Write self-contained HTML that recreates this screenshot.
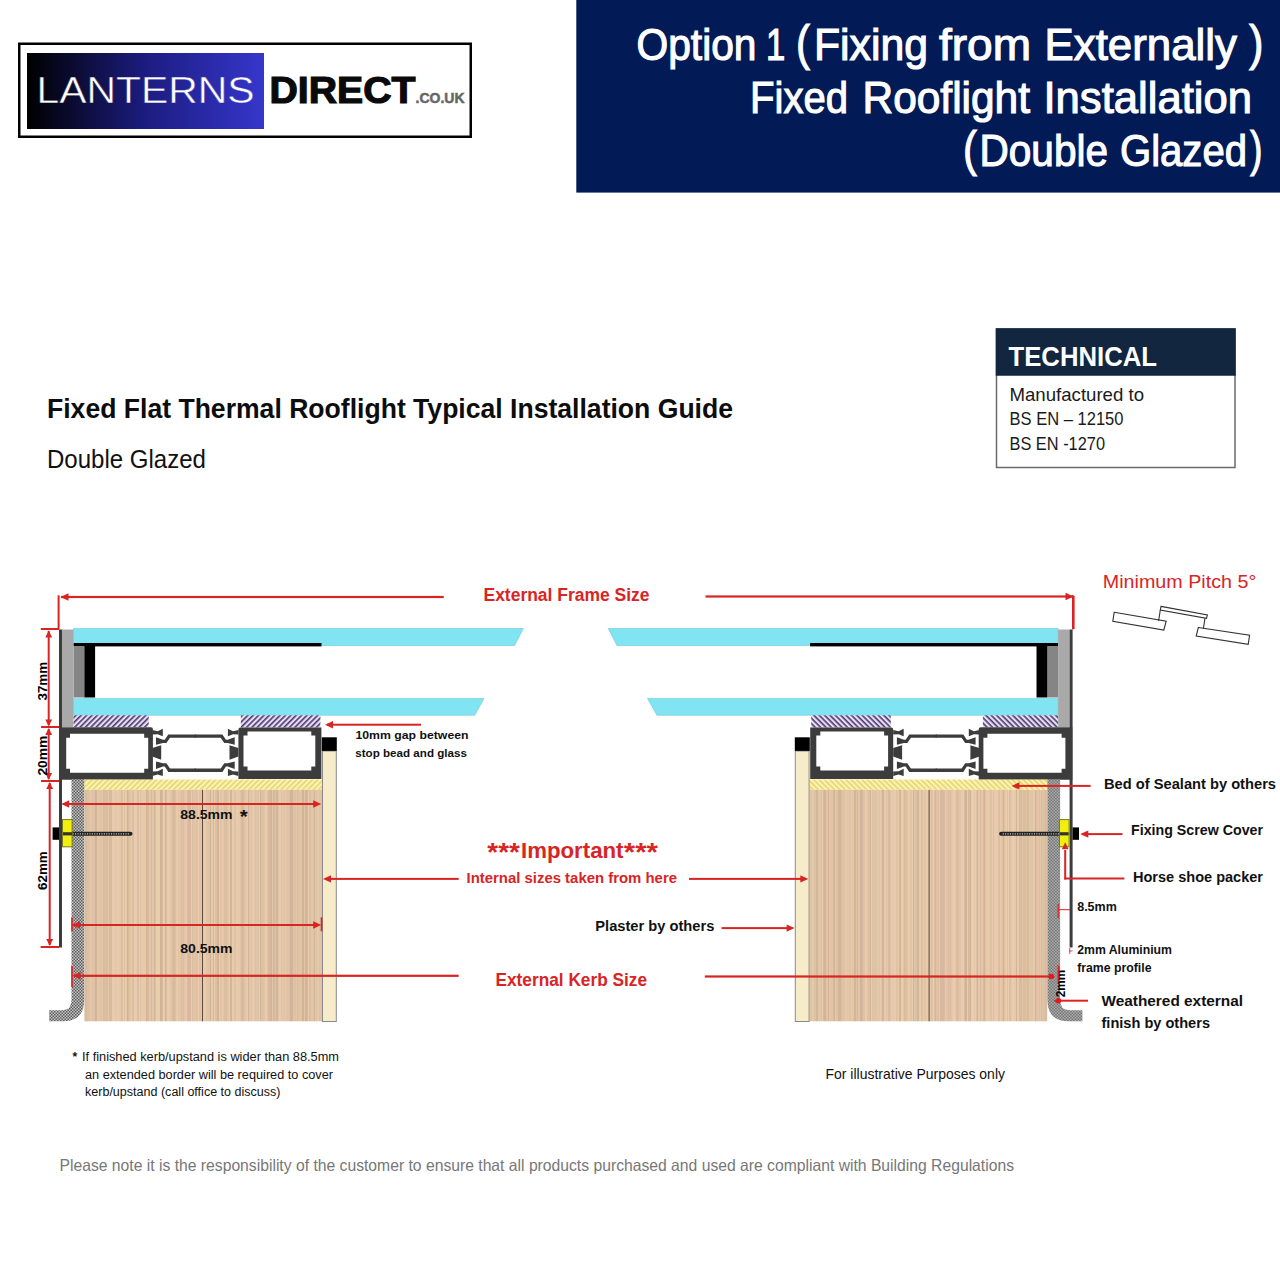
<!DOCTYPE html><html><head><meta charset="utf-8"><style>html,body{margin:0;padding:0;background:#fff;width:1280px;height:1280px;overflow:hidden}svg{display:block;font-family:"Liberation Sans",sans-serif}</style></head><body>
<svg width="1280" height="1280" viewBox="0 0 1280 1280">
<defs>
<linearGradient id="logoG" gradientUnits="userSpaceOnUse" x1="27" x2="264" y1="0" y2="0"><stop offset="0" stop-color="#000000"/><stop offset="0.5" stop-color="#1c1c80"/><stop offset="1" stop-color="#3636cc"/></linearGradient>
<pattern id="purp" width="3.8" height="3.8" patternUnits="userSpaceOnUse" patternTransform="rotate(45)"><rect width="3.8" height="3.8" fill="#eadcf2"/><rect width="1.6" height="3.8" fill="#4a3a6e"/></pattern>
<pattern id="yel" width="3.8" height="3.8" patternUnits="userSpaceOnUse" patternTransform="rotate(45)"><rect width="3.8" height="3.8" fill="#f8f1c0"/><rect width="1.7" height="3.8" fill="#e9d862"/></pattern>
<pattern id="chk" width="3" height="3" patternUnits="userSpaceOnUse"><rect width="3" height="3" fill="#c4c4c4"/><rect width="1.5" height="1.5" fill="#5c5c5c"/><rect x="1.5" y="1.5" width="1.5" height="1.5" fill="#5c5c5c"/></pattern>
<linearGradient id="wood" x1="0" x2="1" y1="0" y2="0"><stop offset="0.0000" stop-color="rgb(221, 189, 159)"/><stop offset="0.0039" stop-color="rgb(221, 189, 159)"/><stop offset="0.0039" stop-color="rgb(216, 189, 155)"/><stop offset="0.0109" stop-color="rgb(216, 189, 155)"/><stop offset="0.0109" stop-color="rgb(221, 192, 165)"/><stop offset="0.0183" stop-color="rgb(221, 192, 165)"/><stop offset="0.0183" stop-color="rgb(221, 196, 165)"/><stop offset="0.0228" stop-color="rgb(221, 196, 165)"/><stop offset="0.0228" stop-color="rgb(215, 189, 155)"/><stop offset="0.0252" stop-color="rgb(215, 189, 155)"/><stop offset="0.0252" stop-color="rgb(227, 199, 168)"/><stop offset="0.0307" stop-color="rgb(227, 199, 168)"/><stop offset="0.0307" stop-color="rgb(220, 192, 160)"/><stop offset="0.0360" stop-color="rgb(220, 192, 160)"/><stop offset="0.0360" stop-color="rgb(228, 196, 165)"/><stop offset="0.0412" stop-color="rgb(228, 196, 165)"/><stop offset="0.0412" stop-color="rgb(223, 192, 166)"/><stop offset="0.0467" stop-color="rgb(223, 192, 166)"/><stop offset="0.0467" stop-color="rgb(212, 180, 152)"/><stop offset="0.0530" stop-color="rgb(212, 180, 152)"/><stop offset="0.0530" stop-color="rgb(229, 201, 172)"/><stop offset="0.0591" stop-color="rgb(229, 201, 172)"/><stop offset="0.0591" stop-color="rgb(226, 196, 166)"/><stop offset="0.0666" stop-color="rgb(226, 196, 166)"/><stop offset="0.0666" stop-color="rgb(221, 196, 164)"/><stop offset="0.0728" stop-color="rgb(221, 196, 164)"/><stop offset="0.0728" stop-color="rgb(227, 197, 169)"/><stop offset="0.0780" stop-color="rgb(227, 197, 169)"/><stop offset="0.0780" stop-color="rgb(218, 188, 156)"/><stop offset="0.0859" stop-color="rgb(218, 188, 156)"/><stop offset="0.0859" stop-color="rgb(221, 192, 159)"/><stop offset="0.0924" stop-color="rgb(221, 192, 159)"/><stop offset="0.0924" stop-color="rgb(218, 189, 157)"/><stop offset="0.1002" stop-color="rgb(218, 189, 157)"/><stop offset="0.1002" stop-color="rgb(228, 198, 169)"/><stop offset="0.1042" stop-color="rgb(228, 198, 169)"/><stop offset="0.1042" stop-color="rgb(214, 187, 158)"/><stop offset="0.1110" stop-color="rgb(214, 187, 158)"/><stop offset="0.1110" stop-color="rgb(214, 187, 159)"/><stop offset="0.1172" stop-color="rgb(214, 187, 159)"/><stop offset="0.1172" stop-color="rgb(231, 203, 172)"/><stop offset="0.1251" stop-color="rgb(231, 203, 172)"/><stop offset="0.1251" stop-color="rgb(231, 201, 174)"/><stop offset="0.1273" stop-color="rgb(231, 201, 174)"/><stop offset="0.1273" stop-color="rgb(209, 181, 150)"/><stop offset="0.1300" stop-color="rgb(209, 181, 150)"/><stop offset="0.1300" stop-color="rgb(230, 201, 168)"/><stop offset="0.1364" stop-color="rgb(230, 201, 168)"/><stop offset="0.1364" stop-color="rgb(231, 200, 169)"/><stop offset="0.1394" stop-color="rgb(231, 200, 169)"/><stop offset="0.1394" stop-color="rgb(233, 205, 174)"/><stop offset="0.1463" stop-color="rgb(233, 205, 174)"/><stop offset="0.1463" stop-color="rgb(228, 199, 168)"/><stop offset="0.1524" stop-color="rgb(228, 199, 168)"/><stop offset="0.1524" stop-color="rgb(222, 192, 165)"/><stop offset="0.1555" stop-color="rgb(222, 192, 165)"/><stop offset="0.1555" stop-color="rgb(220, 191, 159)"/><stop offset="0.1625" stop-color="rgb(220, 191, 159)"/><stop offset="0.1625" stop-color="rgb(233, 206, 176)"/><stop offset="0.1653" stop-color="rgb(233, 206, 176)"/><stop offset="0.1653" stop-color="rgb(222, 193, 159)"/><stop offset="0.1692" stop-color="rgb(222, 193, 159)"/><stop offset="0.1692" stop-color="rgb(234, 205, 175)"/><stop offset="0.1740" stop-color="rgb(234, 205, 175)"/><stop offset="0.1740" stop-color="rgb(232, 200, 171)"/><stop offset="0.1783" stop-color="rgb(232, 200, 171)"/><stop offset="0.1783" stop-color="rgb(224, 193, 162)"/><stop offset="0.1807" stop-color="rgb(224, 193, 162)"/><stop offset="0.1807" stop-color="rgb(208, 179, 153)"/><stop offset="0.1848" stop-color="rgb(208, 179, 153)"/><stop offset="0.1848" stop-color="rgb(216, 189, 155)"/><stop offset="0.1877" stop-color="rgb(216, 189, 155)"/><stop offset="0.1877" stop-color="rgb(225, 195, 163)"/><stop offset="0.1901" stop-color="rgb(225, 195, 163)"/><stop offset="0.1901" stop-color="rgb(228, 197, 168)"/><stop offset="0.1959" stop-color="rgb(228, 197, 168)"/><stop offset="0.1959" stop-color="rgb(232, 203, 173)"/><stop offset="0.1987" stop-color="rgb(232, 203, 173)"/><stop offset="0.1987" stop-color="rgb(218, 191, 161)"/><stop offset="0.2025" stop-color="rgb(218, 191, 161)"/><stop offset="0.2025" stop-color="rgb(222, 189, 160)"/><stop offset="0.2074" stop-color="rgb(222, 189, 160)"/><stop offset="0.2074" stop-color="rgb(233, 203, 176)"/><stop offset="0.2151" stop-color="rgb(233, 203, 176)"/><stop offset="0.2151" stop-color="rgb(233, 202, 174)"/><stop offset="0.2226" stop-color="rgb(233, 202, 174)"/><stop offset="0.2226" stop-color="rgb(220, 190, 163)"/><stop offset="0.2277" stop-color="rgb(220, 190, 163)"/><stop offset="0.2277" stop-color="rgb(233, 203, 176)"/><stop offset="0.2330" stop-color="rgb(233, 203, 176)"/><stop offset="0.2330" stop-color="rgb(222, 195, 163)"/><stop offset="0.2398" stop-color="rgb(222, 195, 163)"/><stop offset="0.2398" stop-color="rgb(231, 200, 170)"/><stop offset="0.2430" stop-color="rgb(231, 200, 170)"/><stop offset="0.2430" stop-color="rgb(231, 201, 174)"/><stop offset="0.2498" stop-color="rgb(231, 201, 174)"/><stop offset="0.2498" stop-color="rgb(231, 202, 170)"/><stop offset="0.2575" stop-color="rgb(231, 202, 170)"/><stop offset="0.2575" stop-color="rgb(224, 193, 164)"/><stop offset="0.2608" stop-color="rgb(224, 193, 164)"/><stop offset="0.2608" stop-color="rgb(211, 181, 149)"/><stop offset="0.2640" stop-color="rgb(211, 181, 149)"/><stop offset="0.2640" stop-color="rgb(217, 186, 158)"/><stop offset="0.2711" stop-color="rgb(217, 186, 158)"/><stop offset="0.2711" stop-color="rgb(229, 198, 171)"/><stop offset="0.2784" stop-color="rgb(229, 198, 171)"/><stop offset="0.2784" stop-color="rgb(215, 186, 156)"/><stop offset="0.2832" stop-color="rgb(215, 186, 156)"/><stop offset="0.2832" stop-color="rgb(230, 204, 174)"/><stop offset="0.2853" stop-color="rgb(230, 204, 174)"/><stop offset="0.2853" stop-color="rgb(225, 199, 169)"/><stop offset="0.2932" stop-color="rgb(225, 199, 169)"/><stop offset="0.2932" stop-color="rgb(208, 183, 150)"/><stop offset="0.2960" stop-color="rgb(208, 183, 150)"/><stop offset="0.2960" stop-color="rgb(222, 192, 164)"/><stop offset="0.3006" stop-color="rgb(222, 192, 164)"/><stop offset="0.3006" stop-color="rgb(232, 206, 174)"/><stop offset="0.3039" stop-color="rgb(232, 206, 174)"/><stop offset="0.3039" stop-color="rgb(228, 198, 170)"/><stop offset="0.3074" stop-color="rgb(228, 198, 170)"/><stop offset="0.3074" stop-color="rgb(234, 206, 173)"/><stop offset="0.3148" stop-color="rgb(234, 206, 173)"/><stop offset="0.3148" stop-color="rgb(235, 202, 175)"/><stop offset="0.3200" stop-color="rgb(235, 202, 175)"/><stop offset="0.3200" stop-color="rgb(209, 180, 150)"/><stop offset="0.3267" stop-color="rgb(209, 180, 150)"/><stop offset="0.3267" stop-color="rgb(218, 185, 157)"/><stop offset="0.3315" stop-color="rgb(218, 185, 157)"/><stop offset="0.3315" stop-color="rgb(235, 205, 172)"/><stop offset="0.3376" stop-color="rgb(235, 205, 172)"/><stop offset="0.3376" stop-color="rgb(209, 180, 151)"/><stop offset="0.3449" stop-color="rgb(209, 180, 151)"/><stop offset="0.3449" stop-color="rgb(218, 188, 159)"/><stop offset="0.3472" stop-color="rgb(218, 188, 159)"/><stop offset="0.3472" stop-color="rgb(217, 187, 159)"/><stop offset="0.3493" stop-color="rgb(217, 187, 159)"/><stop offset="0.3493" stop-color="rgb(232, 204, 175)"/><stop offset="0.3572" stop-color="rgb(232, 204, 175)"/><stop offset="0.3572" stop-color="rgb(233, 201, 174)"/><stop offset="0.3622" stop-color="rgb(233, 201, 174)"/><stop offset="0.3622" stop-color="rgb(228, 196, 168)"/><stop offset="0.3695" stop-color="rgb(228, 196, 168)"/><stop offset="0.3695" stop-color="rgb(217, 188, 157)"/><stop offset="0.3723" stop-color="rgb(217, 188, 157)"/><stop offset="0.3723" stop-color="rgb(224, 192, 163)"/><stop offset="0.3747" stop-color="rgb(224, 192, 163)"/><stop offset="0.3747" stop-color="rgb(215, 187, 156)"/><stop offset="0.3808" stop-color="rgb(215, 187, 156)"/><stop offset="0.3808" stop-color="rgb(221, 190, 159)"/><stop offset="0.3843" stop-color="rgb(221, 190, 159)"/><stop offset="0.3843" stop-color="rgb(230, 201, 171)"/><stop offset="0.3887" stop-color="rgb(230, 201, 171)"/><stop offset="0.3887" stop-color="rgb(234, 204, 175)"/><stop offset="0.3949" stop-color="rgb(234, 204, 175)"/><stop offset="0.3949" stop-color="rgb(224, 197, 165)"/><stop offset="0.3981" stop-color="rgb(224, 197, 165)"/><stop offset="0.3981" stop-color="rgb(232, 200, 173)"/><stop offset="0.4021" stop-color="rgb(232, 200, 173)"/><stop offset="0.4021" stop-color="rgb(228, 195, 165)"/><stop offset="0.4061" stop-color="rgb(228, 195, 165)"/><stop offset="0.4061" stop-color="rgb(221, 192, 164)"/><stop offset="0.4140" stop-color="rgb(221, 192, 164)"/><stop offset="0.4140" stop-color="rgb(220, 190, 162)"/><stop offset="0.4176" stop-color="rgb(220, 190, 162)"/><stop offset="0.4176" stop-color="rgb(227, 196, 169)"/><stop offset="0.4247" stop-color="rgb(227, 196, 169)"/><stop offset="0.4247" stop-color="rgb(231, 200, 172)"/><stop offset="0.4322" stop-color="rgb(231, 200, 172)"/><stop offset="0.4322" stop-color="rgb(221, 189, 161)"/><stop offset="0.4346" stop-color="rgb(221, 189, 161)"/><stop offset="0.4346" stop-color="rgb(216, 185, 159)"/><stop offset="0.4422" stop-color="rgb(216, 185, 159)"/><stop offset="0.4422" stop-color="rgb(216, 185, 158)"/><stop offset="0.4494" stop-color="rgb(216, 185, 158)"/><stop offset="0.4494" stop-color="rgb(234, 204, 176)"/><stop offset="0.4514" stop-color="rgb(234, 204, 176)"/><stop offset="0.4514" stop-color="rgb(232, 202, 173)"/><stop offset="0.4542" stop-color="rgb(232, 202, 173)"/><stop offset="0.4542" stop-color="rgb(219, 191, 161)"/><stop offset="0.4578" stop-color="rgb(219, 191, 161)"/><stop offset="0.4578" stop-color="rgb(223, 195, 166)"/><stop offset="0.4630" stop-color="rgb(223, 195, 166)"/><stop offset="0.4630" stop-color="rgb(226, 195, 167)"/><stop offset="0.4690" stop-color="rgb(226, 195, 167)"/><stop offset="0.4690" stop-color="rgb(212, 183, 150)"/><stop offset="0.4712" stop-color="rgb(212, 183, 150)"/><stop offset="0.4712" stop-color="rgb(224, 192, 165)"/><stop offset="0.4763" stop-color="rgb(224, 192, 165)"/><stop offset="0.4763" stop-color="rgb(234, 206, 174)"/><stop offset="0.4822" stop-color="rgb(234, 206, 174)"/><stop offset="0.4822" stop-color="rgb(223, 193, 163)"/><stop offset="0.4884" stop-color="rgb(223, 193, 163)"/><stop offset="0.4884" stop-color="rgb(224, 196, 165)"/><stop offset="0.4928" stop-color="rgb(224, 196, 165)"/><stop offset="0.4928" stop-color="rgb(227, 196, 165)"/><stop offset="0.4952" stop-color="rgb(227, 196, 165)"/><stop offset="0.4952" stop-color="rgb(231, 200, 172)"/><stop offset="0.4977" stop-color="rgb(231, 200, 172)"/><stop offset="0.4977" stop-color="rgb(224, 198, 166)"/><stop offset="0.5012" stop-color="rgb(224, 198, 166)"/><stop offset="0.5012" stop-color="rgb(229, 202, 172)"/><stop offset="0.5041" stop-color="rgb(229, 202, 172)"/><stop offset="0.5041" stop-color="rgb(233, 203, 172)"/><stop offset="0.5119" stop-color="rgb(233, 203, 172)"/><stop offset="0.5119" stop-color="rgb(225, 197, 166)"/><stop offset="0.5197" stop-color="rgb(225, 197, 166)"/><stop offset="0.5197" stop-color="rgb(227, 201, 170)"/><stop offset="0.5217" stop-color="rgb(227, 201, 170)"/><stop offset="0.5217" stop-color="rgb(222, 196, 162)"/><stop offset="0.5267" stop-color="rgb(222, 196, 162)"/><stop offset="0.5267" stop-color="rgb(215, 188, 159)"/><stop offset="0.5293" stop-color="rgb(215, 188, 159)"/><stop offset="0.5293" stop-color="rgb(210, 181, 150)"/><stop offset="0.5315" stop-color="rgb(210, 181, 150)"/><stop offset="0.5315" stop-color="rgb(232, 206, 175)"/><stop offset="0.5340" stop-color="rgb(232, 206, 175)"/><stop offset="0.5340" stop-color="rgb(230, 202, 174)"/><stop offset="0.5406" stop-color="rgb(230, 202, 174)"/><stop offset="0.5406" stop-color="rgb(212, 182, 153)"/><stop offset="0.5465" stop-color="rgb(212, 182, 153)"/><stop offset="0.5465" stop-color="rgb(235, 206, 172)"/><stop offset="0.5493" stop-color="rgb(235, 206, 172)"/><stop offset="0.5493" stop-color="rgb(221, 192, 162)"/><stop offset="0.5563" stop-color="rgb(221, 192, 162)"/><stop offset="0.5563" stop-color="rgb(224, 198, 168)"/><stop offset="0.5591" stop-color="rgb(224, 198, 168)"/><stop offset="0.5591" stop-color="rgb(212, 180, 152)"/><stop offset="0.5644" stop-color="rgb(212, 180, 152)"/><stop offset="0.5644" stop-color="rgb(229, 204, 174)"/><stop offset="0.5680" stop-color="rgb(229, 204, 174)"/><stop offset="0.5680" stop-color="rgb(231, 205, 174)"/><stop offset="0.5705" stop-color="rgb(231, 205, 174)"/><stop offset="0.5705" stop-color="rgb(225, 196, 166)"/><stop offset="0.5774" stop-color="rgb(225, 196, 166)"/><stop offset="0.5774" stop-color="rgb(232, 203, 170)"/><stop offset="0.5838" stop-color="rgb(232, 203, 170)"/><stop offset="0.5838" stop-color="rgb(224, 199, 166)"/><stop offset="0.5887" stop-color="rgb(224, 199, 166)"/><stop offset="0.5887" stop-color="rgb(220, 191, 161)"/><stop offset="0.5912" stop-color="rgb(220, 191, 161)"/><stop offset="0.5912" stop-color="rgb(218, 192, 159)"/><stop offset="0.5969" stop-color="rgb(218, 192, 159)"/><stop offset="0.5969" stop-color="rgb(215, 188, 157)"/><stop offset="0.6018" stop-color="rgb(215, 188, 157)"/><stop offset="0.6018" stop-color="rgb(227, 198, 168)"/><stop offset="0.6081" stop-color="rgb(227, 198, 168)"/><stop offset="0.6081" stop-color="rgb(232, 204, 172)"/><stop offset="0.6147" stop-color="rgb(232, 204, 172)"/><stop offset="0.6147" stop-color="rgb(210, 182, 149)"/><stop offset="0.6223" stop-color="rgb(210, 182, 149)"/><stop offset="0.6223" stop-color="rgb(231, 203, 171)"/><stop offset="0.6292" stop-color="rgb(231, 203, 171)"/><stop offset="0.6292" stop-color="rgb(221, 196, 162)"/><stop offset="0.6367" stop-color="rgb(221, 196, 162)"/><stop offset="0.6367" stop-color="rgb(233, 204, 173)"/><stop offset="0.6396" stop-color="rgb(233, 204, 173)"/><stop offset="0.6396" stop-color="rgb(233, 202, 174)"/><stop offset="0.6452" stop-color="rgb(233, 202, 174)"/><stop offset="0.6452" stop-color="rgb(232, 200, 171)"/><stop offset="0.6486" stop-color="rgb(232, 200, 171)"/><stop offset="0.6486" stop-color="rgb(232, 203, 172)"/><stop offset="0.6506" stop-color="rgb(232, 203, 172)"/><stop offset="0.6506" stop-color="rgb(229, 201, 170)"/><stop offset="0.6569" stop-color="rgb(229, 201, 170)"/><stop offset="0.6569" stop-color="rgb(224, 197, 167)"/><stop offset="0.6597" stop-color="rgb(224, 197, 167)"/><stop offset="0.6597" stop-color="rgb(215, 185, 157)"/><stop offset="0.6667" stop-color="rgb(215, 185, 157)"/><stop offset="0.6667" stop-color="rgb(217, 188, 159)"/><stop offset="0.6702" stop-color="rgb(217, 188, 159)"/><stop offset="0.6702" stop-color="rgb(229, 198, 170)"/><stop offset="0.6727" stop-color="rgb(229, 198, 170)"/><stop offset="0.6727" stop-color="rgb(225, 196, 167)"/><stop offset="0.6753" stop-color="rgb(225, 196, 167)"/><stop offset="0.6753" stop-color="rgb(225, 197, 168)"/><stop offset="0.6799" stop-color="rgb(225, 197, 168)"/><stop offset="0.6799" stop-color="rgb(231, 202, 169)"/><stop offset="0.6872" stop-color="rgb(231, 202, 169)"/><stop offset="0.6872" stop-color="rgb(211, 182, 153)"/><stop offset="0.6935" stop-color="rgb(211, 182, 153)"/><stop offset="0.6935" stop-color="rgb(227, 195, 169)"/><stop offset="0.7001" stop-color="rgb(227, 195, 169)"/><stop offset="0.7001" stop-color="rgb(232, 202, 172)"/><stop offset="0.7028" stop-color="rgb(232, 202, 172)"/><stop offset="0.7028" stop-color="rgb(227, 196, 167)"/><stop offset="0.7066" stop-color="rgb(227, 196, 167)"/><stop offset="0.7066" stop-color="rgb(227, 199, 169)"/><stop offset="0.7115" stop-color="rgb(227, 199, 169)"/><stop offset="0.7115" stop-color="rgb(234, 206, 173)"/><stop offset="0.7140" stop-color="rgb(234, 206, 173)"/><stop offset="0.7140" stop-color="rgb(227, 198, 166)"/><stop offset="0.7187" stop-color="rgb(227, 198, 166)"/><stop offset="0.7187" stop-color="rgb(221, 193, 164)"/><stop offset="0.7240" stop-color="rgb(221, 193, 164)"/><stop offset="0.7240" stop-color="rgb(225, 197, 167)"/><stop offset="0.7293" stop-color="rgb(225, 197, 167)"/><stop offset="0.7293" stop-color="rgb(221, 195, 165)"/><stop offset="0.7361" stop-color="rgb(221, 195, 165)"/><stop offset="0.7361" stop-color="rgb(232, 205, 174)"/><stop offset="0.7406" stop-color="rgb(232, 205, 174)"/><stop offset="0.7406" stop-color="rgb(211, 181, 153)"/><stop offset="0.7447" stop-color="rgb(211, 181, 153)"/><stop offset="0.7447" stop-color="rgb(222, 193, 160)"/><stop offset="0.7525" stop-color="rgb(222, 193, 160)"/><stop offset="0.7525" stop-color="rgb(224, 195, 165)"/><stop offset="0.7550" stop-color="rgb(224, 195, 165)"/><stop offset="0.7550" stop-color="rgb(224, 196, 165)"/><stop offset="0.7596" stop-color="rgb(224, 196, 165)"/><stop offset="0.7596" stop-color="rgb(233, 203, 170)"/><stop offset="0.7642" stop-color="rgb(233, 203, 170)"/><stop offset="0.7642" stop-color="rgb(234, 205, 173)"/><stop offset="0.7666" stop-color="rgb(234, 205, 173)"/><stop offset="0.7666" stop-color="rgb(222, 193, 166)"/><stop offset="0.7733" stop-color="rgb(222, 193, 166)"/><stop offset="0.7733" stop-color="rgb(217, 185, 159)"/><stop offset="0.7811" stop-color="rgb(217, 185, 159)"/><stop offset="0.7811" stop-color="rgb(209, 180, 153)"/><stop offset="0.7878" stop-color="rgb(209, 180, 153)"/><stop offset="0.7878" stop-color="rgb(225, 197, 169)"/><stop offset="0.7953" stop-color="rgb(225, 197, 169)"/><stop offset="0.7953" stop-color="rgb(214, 185, 157)"/><stop offset="0.8011" stop-color="rgb(214, 185, 157)"/><stop offset="0.8011" stop-color="rgb(224, 194, 163)"/><stop offset="0.8063" stop-color="rgb(224, 194, 163)"/><stop offset="0.8063" stop-color="rgb(208, 183, 151)"/><stop offset="0.8130" stop-color="rgb(208, 183, 151)"/><stop offset="0.8130" stop-color="rgb(226, 196, 168)"/><stop offset="0.8210" stop-color="rgb(226, 196, 168)"/><stop offset="0.8210" stop-color="rgb(232, 202, 175)"/><stop offset="0.8262" stop-color="rgb(232, 202, 175)"/><stop offset="0.8262" stop-color="rgb(224, 195, 166)"/><stop offset="0.8324" stop-color="rgb(224, 195, 166)"/><stop offset="0.8324" stop-color="rgb(227, 200, 169)"/><stop offset="0.8374" stop-color="rgb(227, 200, 169)"/><stop offset="0.8374" stop-color="rgb(225, 198, 165)"/><stop offset="0.8434" stop-color="rgb(225, 198, 165)"/><stop offset="0.8434" stop-color="rgb(229, 201, 169)"/><stop offset="0.8496" stop-color="rgb(229, 201, 169)"/><stop offset="0.8496" stop-color="rgb(228, 195, 166)"/><stop offset="0.8516" stop-color="rgb(228, 195, 166)"/><stop offset="0.8516" stop-color="rgb(223, 193, 163)"/><stop offset="0.8566" stop-color="rgb(223, 193, 163)"/><stop offset="0.8566" stop-color="rgb(226, 195, 169)"/><stop offset="0.8614" stop-color="rgb(226, 195, 169)"/><stop offset="0.8614" stop-color="rgb(219, 192, 162)"/><stop offset="0.8663" stop-color="rgb(219, 192, 162)"/><stop offset="0.8663" stop-color="rgb(212, 180, 152)"/><stop offset="0.8738" stop-color="rgb(212, 180, 152)"/><stop offset="0.8738" stop-color="rgb(212, 180, 152)"/><stop offset="0.8761" stop-color="rgb(212, 180, 152)"/><stop offset="0.8761" stop-color="rgb(209, 182, 152)"/><stop offset="0.8784" stop-color="rgb(209, 182, 152)"/><stop offset="0.8784" stop-color="rgb(224, 195, 166)"/><stop offset="0.8858" stop-color="rgb(224, 195, 166)"/><stop offset="0.8858" stop-color="rgb(222, 192, 159)"/><stop offset="0.8898" stop-color="rgb(222, 192, 159)"/><stop offset="0.8898" stop-color="rgb(229, 200, 171)"/><stop offset="0.8937" stop-color="rgb(229, 200, 171)"/><stop offset="0.8937" stop-color="rgb(208, 181, 149)"/><stop offset="0.8967" stop-color="rgb(208, 181, 149)"/><stop offset="0.8967" stop-color="rgb(218, 186, 158)"/><stop offset="0.9008" stop-color="rgb(218, 186, 158)"/><stop offset="0.9008" stop-color="rgb(227, 195, 165)"/><stop offset="0.9049" stop-color="rgb(227, 195, 165)"/><stop offset="0.9049" stop-color="rgb(223, 196, 165)"/><stop offset="0.9112" stop-color="rgb(223, 196, 165)"/><stop offset="0.9112" stop-color="rgb(227, 195, 168)"/><stop offset="0.9143" stop-color="rgb(227, 195, 168)"/><stop offset="0.9143" stop-color="rgb(227, 201, 168)"/><stop offset="0.9178" stop-color="rgb(227, 201, 168)"/><stop offset="0.9178" stop-color="rgb(210, 180, 149)"/><stop offset="0.9226" stop-color="rgb(210, 180, 149)"/><stop offset="0.9226" stop-color="rgb(226, 197, 167)"/><stop offset="0.9300" stop-color="rgb(226, 197, 167)"/><stop offset="0.9300" stop-color="rgb(210, 181, 151)"/><stop offset="0.9377" stop-color="rgb(210, 181, 151)"/><stop offset="0.9377" stop-color="rgb(214, 186, 155)"/><stop offset="0.9415" stop-color="rgb(214, 186, 155)"/><stop offset="0.9415" stop-color="rgb(232, 202, 173)"/><stop offset="0.9464" stop-color="rgb(232, 202, 173)"/><stop offset="0.9464" stop-color="rgb(221, 190, 159)"/><stop offset="0.9533" stop-color="rgb(221, 190, 159)"/><stop offset="0.9533" stop-color="rgb(225, 199, 166)"/><stop offset="0.9601" stop-color="rgb(225, 199, 166)"/><stop offset="0.9601" stop-color="rgb(227, 197, 169)"/><stop offset="0.9640" stop-color="rgb(227, 197, 169)"/><stop offset="0.9640" stop-color="rgb(224, 193, 163)"/><stop offset="0.9665" stop-color="rgb(224, 193, 163)"/><stop offset="0.9665" stop-color="rgb(211, 183, 153)"/><stop offset="0.9710" stop-color="rgb(211, 183, 153)"/><stop offset="0.9710" stop-color="rgb(227, 198, 170)"/><stop offset="0.9749" stop-color="rgb(227, 198, 170)"/><stop offset="0.9749" stop-color="rgb(221, 195, 165)"/><stop offset="0.9807" stop-color="rgb(221, 195, 165)"/><stop offset="0.9807" stop-color="rgb(230, 201, 171)"/><stop offset="0.9886" stop-color="rgb(230, 201, 171)"/><stop offset="0.9886" stop-color="rgb(225, 192, 164)"/><stop offset="0.9931" stop-color="rgb(225, 192, 164)"/><stop offset="0.9931" stop-color="rgb(226, 197, 167)"/><stop offset="0.9969" stop-color="rgb(226, 197, 167)"/><stop offset="0.9969" stop-color="rgb(222, 193, 163)"/><stop offset="1.0000" stop-color="rgb(222, 193, 163)"/></linearGradient>
<marker id="ah" viewBox="0 0 10 10" refX="10" refY="5" markerWidth="10" markerHeight="10" markerUnits="userSpaceOnUse" orient="auto-start-reverse"><path d="M0,0 L10,5 L0,10 z" fill="#d92424"/></marker>
<g id="half">
<rect x="57.6" y="595.3" width="2" height="34" fill="#d92424"/>
<polygon points="73.5,628.5 523.4,628.5 514.6,645.5 73.5,645.5" fill="#80e4f3" stroke="#70c8d6" stroke-width="0.6"/>
<polygon points="73.5,698.4 484.1,698.4 474.7,715.3 73.5,715.3" fill="#80e4f3" stroke="#70c8d6" stroke-width="0.6"/>
<rect x="73.5" y="643" width="248" height="3.4" fill="#000"/>
<rect x="73.5" y="646" width="11" height="51.5" fill="#858585"/>
<rect x="84.4" y="646" width="10.7" height="51.5" fill="#000"/>
<rect x="62" y="629.5" width="11.5" height="97.5" fill="#a9a9a9"/>
<rect x="59" y="629.5" width="3" height="318" fill="#3c3c3c"/>
<rect x="73.6" y="715.3" width="75.1" height="11.9" fill="url(#purp)"/>
<rect x="240.8" y="715.3" width="79.6" height="12.2" fill="url(#purp)"/>
<path fill-rule="evenodd" fill="#3c3c3c" d="M59.3,727.3 H150.9 Q152.9,727.3 152.9,729.3 V779.7 H59.3 Z M66.2,737.7 H70 V733.7 H144.2 V737.7 H148.2 V768.8 H144.2 V772.8 H70 V768.8 H66.2 Z"/>
<path fill-rule="evenodd" fill="#3c3c3c" d="M240.4,727.5 H321.4 V779 H238.4 V729.5 Q238.4,727.5 240.4,727.5 Z M243.5,735.5 H247.5 V731.5 H311.3 V735.5 H315.3 V766.5 H311.3 V770.5 H247.5 V766.5 H243.5 Z"/>
<g fill="#3c3c3c"><polygon points="152.3,730 157.7,731.2 162.8,728.8 162.8,736.2 157.7,734.2 152.3,734.5"/><polygon points="156,737.3 163,739.7 164.8,739.7 168.3,734.4 196,734.4 196,737.7 170,737.7 166.4,743 163,743 156,744.7"/><polygon points="152.3,748 161.2,745.2 161.2,759.7 152.3,756.5"/><polygon points="156,768.9 163,766.6 164.8,766.6 168.3,771.9 196,771.9 196,768.6 170,768.6 166.4,763.3 163,763.3 156,761.5"/><polygon points="152.3,776 157.7,774.6 162.8,776 162.8,768.7 157.7,771.3 152.3,771.5"/></g>
<g fill="#3c3c3c" transform="matrix(-1 0 0 1 390.7 0)"><polygon points="152.3,730 157.7,731.2 162.8,728.8 162.8,736.2 157.7,734.2 152.3,734.5"/><polygon points="156,737.3 163,739.7 164.8,739.7 168.3,734.4 196,734.4 196,737.7 170,737.7 166.4,743 163,743 156,744.7"/><polygon points="152.3,748 161.2,745.2 161.2,759.7 152.3,756.5"/><polygon points="156,768.9 163,766.6 164.8,766.6 168.3,771.9 196,771.9 196,768.6 170,768.6 166.4,763.3 163,763.3 156,761.5"/><polygon points="152.3,776 157.7,774.6 162.8,776 162.8,768.7 157.7,771.3 152.3,771.5"/></g>
<rect x="84" y="779.5" width="238" height="10.3" fill="url(#yel)"/>
<rect x="84.4" y="789.8" width="237.6" height="231.5" fill="url(#wood)"/>
<rect x="202" y="789.8" width="1" height="231.5" fill="#5a4a40"/>
<path fill="url(#chk)" d="M71.5,779.5 H84.2 V1000 Q84.2,1021.3 63,1021.3 H49.2 V1010.2 H62 Q71.5,1010.2 71.5,1000 Z"/>
<rect x="322.5" y="751" width="13.8" height="270.5" fill="#f7ecc9" stroke="#8a8a8a" stroke-width="1"/>
<rect x="321.8" y="737.3" width="15" height="13.6" fill="#000"/>
<rect x="62" y="831.8" width="70.5" height="4" rx="2" fill="#222"/>
<line x1="63" y1="833.8" x2="130" y2="833.8" stroke="#ccc" stroke-width="1.2" stroke-dasharray="1.1 1.3"/>
<rect x="62.5" y="819.6" width="9.6" height="27.2" fill="#f0ef10" stroke="#7a7a20" stroke-width="1"/>
<rect x="63" y="832.2" width="9" height="3.2" fill="#333"/>
<rect x="52.6" y="827.4" width="6.4" height="12.4" fill="#000"/>
</g>
</defs>
<use href="#half"/>
<use href="#half" transform="matrix(-1 0 0 1 1131.6 0)"/>
<rect x="19.25" y="43.75" width="451.5" height="93" fill="#fff" stroke="#000" stroke-width="2.5"/>
<rect x="27" y="53" width="237" height="76" fill="url(#logoG)"/>
<text x="36.5" y="102.5" font-size="37.5" fill="#fff" textLength="218" lengthAdjust="spacingAndGlyphs" stroke="url(#logoG)" stroke-width="0.5">LANTERNS</text>
<text x="269.5" y="102.6" font-size="37" font-weight="bold" fill="#0a0a0a" textLength="146" lengthAdjust="spacingAndGlyphs" stroke="#0a0a0a" stroke-width="1.2">DIRECT</text>
<text x="415.5" y="102.7" font-size="14.5" font-weight="bold" fill="#666" textLength="49" lengthAdjust="spacingAndGlyphs" stroke="#666" stroke-width="0.5">.CO.UK</text>
<rect x="576.3" y="0" width="703.7" height="192.6" fill="#021b57"/>
<text x="636.5" y="60.4" font-size="44" fill="#fff" textLength="120" lengthAdjust="spacingAndGlyphs" stroke="#fff" stroke-width="1.1">Option</text>
<text x="766" y="60.4" font-size="44" fill="#fff" textLength="19.3" lengthAdjust="spacingAndGlyphs" stroke="#fff" stroke-width="1.1">1</text>
<text x="796.1" y="60.4" font-size="50" fill="#fff" textLength="14.1" lengthAdjust="spacingAndGlyphs" stroke="#fff" stroke-width="1.1">(</text>
<text x="814" y="60.4" font-size="44" fill="#fff" textLength="114" lengthAdjust="spacingAndGlyphs" stroke="#fff" stroke-width="1.1">Fixing</text>
<text x="939" y="60.4" font-size="44" fill="#fff" textLength="92" lengthAdjust="spacingAndGlyphs" stroke="#fff" stroke-width="1.1">from</text>
<text x="1044.5" y="60.4" font-size="44" fill="#fff" textLength="192.5" lengthAdjust="spacingAndGlyphs" stroke="#fff" stroke-width="1.1">Externally</text>
<text x="1249.1" y="60.4" font-size="50" fill="#fff" textLength="14.5" lengthAdjust="spacingAndGlyphs" stroke="#fff" stroke-width="1.1">)</text>
<text x="750" y="112.9" font-size="44" fill="#fff" textLength="98" lengthAdjust="spacingAndGlyphs" stroke="#fff" stroke-width="1.1">Fixed</text>
<text x="862.5" y="112.9" font-size="44" fill="#fff" textLength="167.5" lengthAdjust="spacingAndGlyphs" stroke="#fff" stroke-width="1.1">Rooflight</text>
<text x="1043.5" y="112.9" font-size="44" fill="#fff" textLength="208.5" lengthAdjust="spacingAndGlyphs" stroke="#fff" stroke-width="1.1">Installation</text>
<text x="963" y="166.1" font-size="50" fill="#fff" textLength="14" lengthAdjust="spacingAndGlyphs" stroke="#fff" stroke-width="1.1">(</text>
<text x="979.5" y="166.1" font-size="44" fill="#fff" textLength="128.5" lengthAdjust="spacingAndGlyphs" stroke="#fff" stroke-width="1.1">Double</text>
<text x="1120" y="166.1" font-size="44" fill="#fff" textLength="127" lengthAdjust="spacingAndGlyphs" stroke="#fff" stroke-width="1.1">Glazed</text>
<text x="1250" y="166.1" font-size="50" fill="#fff" textLength="12.5" lengthAdjust="spacingAndGlyphs" stroke="#fff" stroke-width="1.1">)</text>
<text x="47" y="418.1" font-size="28.5" font-weight="bold" fill="#0d0d0d" textLength="686" lengthAdjust="spacingAndGlyphs">Fixed Flat Thermal Rooflight Typical Installation Guide</text>
<text x="47" y="467.8" font-size="25" fill="#111" textLength="159" lengthAdjust="spacingAndGlyphs">Double Glazed</text>
<rect x="996.5" y="329" width="238.5" height="138.5" fill="#fff" stroke="#6b6b6b" stroke-width="1.5"/>
<rect x="995.75" y="328.25" width="240" height="47.5" fill="#12263f"/>
<text x="1008.5" y="365.5" font-size="28" font-weight="bold" fill="#fff" textLength="148.5" lengthAdjust="spacingAndGlyphs">TECHNICAL</text>
<text x="1009.5" y="400.5" font-size="17.8" fill="#1a1a1a" textLength="134.5" lengthAdjust="spacingAndGlyphs">Manufactured to</text>
<text x="1009.5" y="425" font-size="17.8" fill="#1a1a1a" textLength="114" lengthAdjust="spacingAndGlyphs">BS EN – 12150</text>
<text x="1009.5" y="450" font-size="17.8" fill="#1a1a1a" textLength="95.5" lengthAdjust="spacingAndGlyphs">BS EN -1270</text>
<rect x="61" y="595.9" width="382.7" height="2.2" fill="#d92424"/>
<polygon points="60.5,597 68.5,593.3 68.5,600.7" fill="#d92424"/>
<rect x="705.5" y="595.4" width="367.5" height="2.2" fill="#d92424"/>
<polygon points="1073.5,596.5 1065.5,592.8 1065.5,600.2" fill="#d92424"/>
<rect x="1072.6" y="596" width="2" height="33" fill="#d92424"/>
<text x="483.5" y="600.5" font-size="18.3" font-weight="bold" fill="#d92424" textLength="166" lengthAdjust="spacingAndGlyphs">External Frame Size</text>
<rect x="40.8" y="628.0" width="18.200000000000003" height="2" fill="#d92424"/>
<rect x="41" y="726.0" width="18" height="2" fill="#d92424"/>
<rect x="41" y="780.0" width="18" height="2" fill="#d92424"/>
<rect x="40.6" y="946.0" width="18.4" height="2" fill="#d92424"/>
<rect x="47.7" y="631" width="2" height="94" fill="#d92424"/>
<polygon points="48.7,630.5 45.300000000000004,637.5 52.1,637.5" fill="#d92424"/>
<polygon points="48.7,726.5 45.300000000000004,719.5 52.1,719.5" fill="#d92424"/>
<rect x="47.7" y="729" width="2" height="50" fill="#d92424"/>
<polygon points="48.7,728 45.300000000000004,735 52.1,735" fill="#d92424"/>
<polygon points="48.7,780 45.300000000000004,773 52.1,773" fill="#d92424"/>
<rect x="48.7" y="783" width="2" height="162" fill="#d92424"/>
<polygon points="49.7,782 46.300000000000004,789 53.1,789" fill="#d92424"/>
<polygon points="49.7,946 46.300000000000004,939 53.1,939" fill="#d92424"/>
<text x="0" y="0" font-size="13.6" font-weight="bold" fill="#000" text-anchor="middle" textLength="38.7" lengthAdjust="spacingAndGlyphs" transform="translate(46.8,681.2) rotate(-90)">37mm</text>
<text x="0" y="0" font-size="13.6" font-weight="bold" fill="#000" text-anchor="middle" textLength="40" lengthAdjust="spacingAndGlyphs" transform="translate(46.8,755.6) rotate(-90)">20mm</text>
<text x="0" y="0" font-size="13.6" font-weight="bold" fill="#000" text-anchor="middle" textLength="38.7" lengthAdjust="spacingAndGlyphs" transform="translate(46.8,870.6) rotate(-90)">62mm</text>
<rect x="327" y="723.7" width="94" height="2" fill="#d92424"/>
<polygon points="325,724.7 333,721.0 333,728.4000000000001" fill="#d92424"/>
<text x="355.5" y="739" font-size="11.8" font-weight="bold" fill="#111" textLength="113" lengthAdjust="spacingAndGlyphs">10mm gap between</text>
<text x="355.3" y="756.7" font-size="11.8" font-weight="bold" fill="#111" textLength="111.6" lengthAdjust="spacingAndGlyphs">stop bead and glass</text>
<rect x="63" y="803.0" width="256" height="2" fill="#d92424"/>
<polygon points="61.2,804 69.2,800.3 69.2,807.7" fill="#d92424"/>
<polygon points="321.2,804 313.2,800.3 313.2,807.7" fill="#d92424"/>
<text x="180.3" y="819" font-size="13" font-weight="bold" fill="#111" textLength="52.3" lengthAdjust="spacingAndGlyphs">88.5mm</text>
<text x="239.8" y="823" font-size="18" font-weight="bold" fill="#111" textLength="8" lengthAdjust="spacingAndGlyphs">*</text>
<rect x="73" y="924.0" width="246" height="2" fill="#d92424"/>
<polygon points="72,925 80,921.3 80,928.7" fill="#d92424"/>
<polygon points="321.2,925 313.2,921.3 313.2,928.7" fill="#d92424"/>
<rect x="71.2" y="917.5" width="1.6" height="14.0" fill="#d92424"/>
<rect x="320.7" y="917.3" width="1.6" height="14.100000000000023" fill="#d92424"/>
<text x="180.3" y="953" font-size="13" font-weight="bold" fill="#111" textLength="52.3" lengthAdjust="spacingAndGlyphs">80.5mm</text>
<text x="487.3" y="861" font-size="26" font-weight="bold" fill="#d92424" textLength="32.5" lengthAdjust="spacingAndGlyphs">***</text>
<text x="521" y="858" font-size="21.7" font-weight="bold" fill="#d92424" textLength="102.5" lengthAdjust="spacingAndGlyphs">Important</text>
<text x="623.8" y="861" font-size="26" font-weight="bold" fill="#d92424" textLength="34" lengthAdjust="spacingAndGlyphs">***</text>
<text x="466.5" y="883.2" font-size="15.5" font-weight="bold" fill="#d92424" textLength="210.5" lengthAdjust="spacingAndGlyphs">Internal sizes taken from here</text>
<rect x="325" y="877.9" width="133.7" height="2" fill="#d92424"/>
<polygon points="323,878.9 331,875.1999999999999 331,882.6" fill="#d92424"/>
<rect x="689" y="877.9" width="117" height="2" fill="#d92424"/>
<polygon points="808.3,878.9 800.3,875.1999999999999 800.3,882.6" fill="#d92424"/>
<text x="595.3" y="930.6" font-size="14.5" font-weight="bold" fill="#111" textLength="119" lengthAdjust="spacingAndGlyphs">Plaster by others</text>
<rect x="721.6" y="927.1" width="70.39999999999998" height="2" fill="#d92424"/>
<polygon points="794.6,928.1 786.6,924.4 786.6,931.8000000000001" fill="#d92424"/>
<text x="495.5" y="985.6" font-size="18.5" font-weight="bold" fill="#d92424" textLength="151.5" lengthAdjust="spacingAndGlyphs">External Kerb Size</text>
<rect x="74" y="974.6999999999999" width="384.7" height="2.2" fill="#d92424"/>
<polygon points="72.5,975.8 80.5,972.0999999999999 80.5,979.5" fill="#d92424"/>
<rect x="71.2" y="966" width="1.6" height="21" fill="#d92424"/>
<rect x="704.8" y="975.4" width="345.20000000000005" height="2.2" fill="#d92424"/>
<polygon points="1055,976.5 1049,973.5 1049,979.5" fill="#d92424"/>
<circle cx="1051.5" cy="976.4" r="2.6" fill="#e81818"/>
<rect x="1057.7" y="965.4" width="1.4" height="18.0" fill="#d92424"/>
<text x="1102.8" y="587.5" font-size="18.6" fill="#d92424" textLength="153.5" lengthAdjust="spacingAndGlyphs">Minimum Pitch 5°</text>
<g fill="#fff" stroke="#333" stroke-width="1.1"><polygon points="1114.2,612.3 1166.2,621.2 1163.8,630 1112.8,621.2"/><polygon points="1161,606.4 1207.4,614.9 1206.5,618.4 1160.3,610"/><polygon points="1198.3,627.5 1249.6,635.2 1248.2,644.4 1196.2,636"/><polyline points="1160.3,610 1158.6,621" fill="none"/><polyline points="1205,618.2 1203.4,628.5" fill="none"/></g>
<text x="1104" y="788.5" font-size="15" font-weight="bold" fill="#111" textLength="172" lengthAdjust="spacingAndGlyphs">Bed of Sealant by others</text>
<rect x="1014" y="784.9" width="76.59999999999991" height="2" fill="#d92424"/>
<polygon points="1011.5,785.9 1019.5,782.1999999999999 1019.5,789.6" fill="#d92424"/>
<text x="1131" y="834.6" font-size="15" font-weight="bold" fill="#111" textLength="132" lengthAdjust="spacingAndGlyphs">Fixing Screw Cover</text>
<rect x="1082" y="833.1" width="40.5" height="2" fill="#d92424"/>
<polygon points="1080.3,834.1 1088.3,830.4 1088.3,837.8000000000001" fill="#d92424"/>
<text x="1133" y="882.3" font-size="15" font-weight="bold" fill="#111" textLength="130" lengthAdjust="spacingAndGlyphs">Horse shoe packer</text>
<rect x="1064.3" y="877.5" width="60.100000000000136" height="2" fill="#d92424"/>
<rect x="1064.2" y="850" width="2" height="29.5" fill="#d92424"/>
<polygon points="1065.2,842.2 1061.8,849.2 1068.6000000000001,849.2" fill="#d92424"/>
<text x="1077.2" y="910.8" font-size="12" font-weight="bold" fill="#111" textLength="39.6" lengthAdjust="spacingAndGlyphs">8.5mm</text>
<rect x="1058" y="909.2" width="12" height="1" fill="#d92424"/>
<rect x="1057.6000000000001" y="904" width="1.2" height="14" fill="#d92424"/>
<text x="1077.2" y="954.3" font-size="12" font-weight="bold" fill="#111" textLength="94.8" lengthAdjust="spacingAndGlyphs">2mm Aluminium</text>
<text x="1077.2" y="971.9" font-size="12" font-weight="bold" fill="#111" textLength="74.3" lengthAdjust="spacingAndGlyphs">frame profile</text>
<rect x="1069.3999999999999" y="948" width="0.8" height="6" fill="#d92424"/>
<rect x="1069" y="950.6" width="3.599999999999909" height="0.8" fill="#d92424"/>
<text x="0" y="0" font-size="12" font-weight="bold" fill="#000" text-anchor="middle" textLength="27.3" lengthAdjust="spacingAndGlyphs" transform="translate(1065.3,983.5) rotate(-90)">2mm</text>
<rect x="1058.2" y="966" width="1.2" height="13" fill="#d92424"/>
<rect x="1060" y="999.7" width="28" height="2" fill="#d92424"/>
<polygon points="1053.5,1000.7 1059.5,997.7 1059.5,1003.7" fill="#d92424"/>
<circle cx="1058.5" cy="1000.7" r="2.6" fill="#e81818"/>
<text x="1101.5" y="1005.8" font-size="14.6" font-weight="bold" fill="#111" textLength="141.5" lengthAdjust="spacingAndGlyphs">Weathered external</text>
<text x="1101.5" y="1028.2" font-size="14.6" font-weight="bold" fill="#111" textLength="108.5" lengthAdjust="spacingAndGlyphs">finish by others</text>
<text x="72.5" y="1061.1" font-size="12" font-weight="bold" fill="#111">*</text>
<text x="82" y="1061.1" font-size="12" fill="#111" textLength="257" lengthAdjust="spacingAndGlyphs">If finished kerb/upstand is wider than 88.5mm</text>
<text x="85" y="1078.7" font-size="12" fill="#111" textLength="248" lengthAdjust="spacingAndGlyphs">an extended border will be required to cover</text>
<text x="85" y="1096.2" font-size="12" fill="#111" textLength="195.5" lengthAdjust="spacingAndGlyphs">kerb/upstand (call office to discuss)</text>
<text x="825.5" y="1078.6" font-size="14.5" fill="#111" textLength="179.5" lengthAdjust="spacingAndGlyphs">For illustrative Purposes only</text>
<text x="59.5" y="1171.2" font-size="16.5" fill="#777" textLength="954.5" lengthAdjust="spacingAndGlyphs">Please note it is the responsibility of the customer to ensure that all products purchased and used are compliant with Building Regulations</text>
</svg></body></html>
